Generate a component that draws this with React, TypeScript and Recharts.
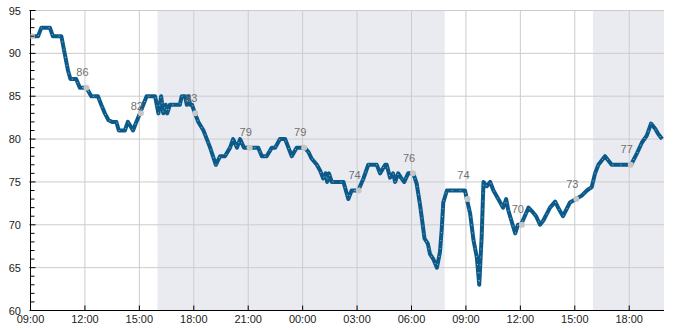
import {
  ComposedChart,
  Line,
  Scatter,
  XAxis,
  YAxis,
  ReferenceArea,
  ReferenceLine,
} from 'recharts';

// minutes after 09:00 on day one, and the reading at that time
const minutes = [
  0, 25, 36, 64, 74, 97, 102, 113, 124, 132, 151, 163, 185, 193, 201, 223, 234, 246, 258, 270,
  284, 292, 312, 322, 331, 339, 350, 362, 373, 384, 412, 423, 432, 439, 447, 452, 461, 494, 500, 511,
  517, 522, 528, 534, 544, 555, 572, 583, 594, 613, 627, 643, 660, 670, 683, 693, 706, 724, 753, 765,
  781, 798, 809, 825, 842, 864, 880, 906, 919, 930, 947, 958, 968, 976, 981, 987, 996, 1035, 1051, 1062,
  1084, 1101, 1117, 1145, 1156, 1173, 1178, 1189, 1199, 1206, 1216, 1225, 1236, 1249, 1266, 1277, 1288, 1296, 1303, 1314,
  1321, 1332, 1344, 1354, 1360, 1365, 1377, 1437, 1443, 1454, 1465, 1476, 1484, 1492, 1498, 1509, 1520, 1531, 1547, 1563,
  1573, 1580, 1603, 1612, 1622, 1647, 1658, 1672, 1685, 1696, 1718, 1735, 1745, 1761, 1784, 1804, 1823, 1840, 1856, 1867,
  1878, 1900, 1922, 1986, 2005, 2022, 2038, 2052, 2066, 2076, 2089,
];
const values = [
  92, 92, 93, 93, 92, 92, 92, 90, 88, 87, 87, 86, 86, 85.5, 85, 85, 84, 83, 82.2, 82,
  82, 81, 81, 82, 81.5, 81, 82, 83, 84, 85, 85, 83, 85, 83, 84, 83, 84, 84, 85, 85,
  84, 85, 84, 84, 83, 82, 81, 80, 79, 77, 78, 78, 79, 80, 79, 80, 79, 79, 79, 78,
  78, 79, 79, 80, 80, 78, 79, 79, 78.5, 77.7, 77, 76.3, 75.4, 76, 75, 76, 75, 75, 73, 74,
  74, 75.4, 77, 77, 76, 77, 77, 75.5, 76, 75, 76, 75.5, 75, 76, 76, 74.8, 72.4, 70.3, 68.4, 67.8,
  66.6, 66, 65, 66.8, 69.5, 72.6, 74, 74, 73, 71.3, 68.2, 66.2, 63, 68.6, 75, 74.5, 75, 74, 73, 72,
  73, 71.7, 69, 70, 70, 72, 71.6, 71, 70, 70.5, 72, 72.7, 72, 71, 72.6, 73, 73.4, 74, 74.4, 76,
  77, 78, 77, 77, 78.3, 79.6, 80.4, 81.8, 81.2, 80.6, 80,
];

// grey markers every three hours and the numbers written above them
const markMinutes = [5, 185, 365, 545, 725, 905, 1085, 1265, 1445, 1625, 1805, 1985];
const markValues = [92, 86, 83, 83, 79, 79, 74, 76, 73, 70, 73, 77];
const markLabels = [null, 86, 82, 83, 79, 79, 74, 76, 74, 70, 73, 77];

// shaded evening/night spans (minutes after 09:00)
const bandStarts = [420, 1860];
const bandEnds = [1370, 2095];

const xTicks = [0, 180, 360, 540, 720, 900, 1080, 1260, 1440, 1620, 1800, 1980];
const yTicks = Array.from({ length: 36 }, (_, i) => 60 + i);
const yGrid = [65, 70, 75, 80, 85, 90, 95];

const series = minutes.map((t, i) => ({ t, v: values[i] }));
const marks = markMinutes.map((t, i) => ({ t, v: markValues[i] }));
const labels = markMinutes
  .map((t, i) => ({ t, v: markLabels[i] }))
  .filter((d) => d.v !== null);

const FONT = 'Liberation Sans, Arial, sans-serif';

const fmtTime = (m: number) => {
  const h = (9 + Math.floor(m / 60)) % 24;
  const mm = m % 60;
  return `${String(h).padStart(2, '0')}:${String(mm).padStart(2, '0')}`;
};

const XTick = (props: any) => {
  const { x, y, payload } = props;
  return (
    <g>
      <line x1={x} y1={y} x2={x} y2={y - 5} stroke='#000' />
      <text x={x} y={y + 12} textAnchor='middle' fontSize={11} fontFamily={FONT} fill='#222'>
        {fmtTime(payload.value)}
      </text>
    </g>
  );
};

const YTick = (props: any) => {
  const { x, y, payload } = props;
  const major = payload.value % 5 === 0;
  return (
    <g>
      <line x1={major ? x - 1 : x} y1={y} x2={x + (major ? 5 : 4)} y2={y} stroke='#000' />
      {major && (
        <text x={x - 9.5} y={y + 4} textAnchor='end' fontSize={11} fontFamily={FONT} fill='#222'>
          {payload.value}
        </text>
      )}
    </g>
  );
};

const MarkDot = (props: any) => <circle cx={props.cx} cy={props.cy} r={3} fill='#c6c6c6' />;

const MarkLabel = (props: any) => (
  <text
    x={props.cx - 4}
    y={props.cy - 11.5}
    textAnchor='middle'
    fontSize={11}
    fontFamily={FONT}
    fill='#707070'
  >
    {props.payload.v}
  </text>
);

export default function App() {
  return (
    <div style={{ position: 'absolute', left: 0, top: 0 }}>
      <ComposedChart
        width={685}
        height={330}
        margin={{ top: 10.5, right: 21, left: 0, bottom: 0 }}
      >
        {bandStarts.map((s, i) => (
          <ReferenceArea
            key={`band${i}`}
            x1={s}
            x2={bandEnds[i]}
            y1={60}
            y2={95}
            fill='#eaebf1'
            fillOpacity={1}
            stroke='none'
            ifOverflow='hidden'
          />
        ))}
        {yGrid.map((v) => (
          <ReferenceLine key={`h${v}`} y={v} stroke='#cccccc' strokeWidth={1} />
        ))}
        {xTicks.slice(1).map((t) => (
          <ReferenceLine key={`v${t}`} x={t} stroke='#cccccc' strokeWidth={1} />
        ))}
        <XAxis
          type='number'
          dataKey='t'
          domain={[0, 2095]}
          ticks={xTicks}
          interval={0}
          allowDataOverflow
          height={19.5}
          tickSize={0}
          tickMargin={0}
          tickLine={false}
          axisLine={{ stroke: '#000' }}
          tick={<XTick />}
        />
        <YAxis
          type='number'
          domain={[60, 95]}
          ticks={yTicks}
          interval={0}
          allowDataOverflow
          width={30.5}
          tickSize={0}
          tickMargin={0}
          tickLine={false}
          axisLine={{ stroke: '#000' }}
          tick={<YTick />}
        />
        <Line
          data={series}
          dataKey='v'
          type='linear'
          stroke='#0b5a8a'
          strokeWidth={4}
          strokeLinejoin='round'
          dot={false}
          activeDot={false}
          isAnimationActive={false}
        />
        <Line
          data={series}
          dataKey='v'
          type='linear'
          stroke='#ffffff'
          strokeOpacity={0.6}
          strokeWidth={1}
          strokeDasharray='1 7'
          dot={false}
          activeDot={false}
          isAnimationActive={false}
        />
        <Scatter data={marks} dataKey='v' shape={<MarkDot />} isAnimationActive={false} />
        <Scatter data={labels} dataKey='v' shape={<MarkLabel />} isAnimationActive={false} />
      </ComposedChart>
    </div>
  );
}
